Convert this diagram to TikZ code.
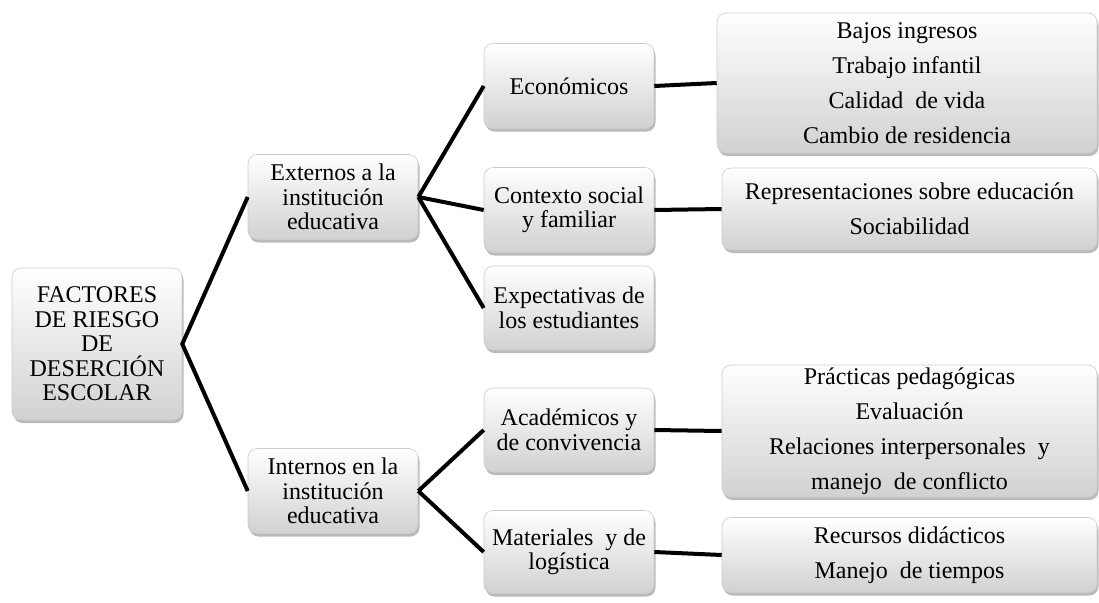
\documentclass[tikz,border=0pt]{standalone}
\usepackage{fontspec}
\setmainfont{Liberation Serif}
\usetikzlibrary{shadows}
\begin{document}
\begin{tikzpicture}[x=1pt,y=-1pt]
\tikzset{
 box/.style={draw=gray!40, line width=0.6pt, rounded corners=9pt, top color=white, bottom color=black!18,
   drop shadow={shadow xshift=1.5pt, shadow yshift=-3pt, opacity=0.45, fill=black!60},
   align=center, font=\fontsize{24}{24.5}\selectfont, inner sep=0pt},
 bigbox/.style={box, font=\fontsize{24}{35}\selectfont},
 link/.style={line width=4pt, black}
}
\useasboundingbox (0,0) rectangle (1099,602);
\node[box, minimum width=170, minimum height=152] (root) at (97,344) {FACTORES\\DE RIESGO\\DE\\DESERCIÓN\\ESCOLAR};
\node[box, minimum width=170, minimum height=85] (ext) at (333,197) {Externos a la\\institución\\educativa};
\node[box, minimum width=170, minimum height=85] (int) at (333,491) {Internos en la\\institución\\educativa};
\node[box, minimum width=170, minimum height=85] (eco) at (569,86) {Económicos};
\node[box, minimum width=170, minimum height=85] (ctx) at (569,210) {Contexto social\\y familiar};
\node[box, minimum width=170, minimum height=84] (expc) at (569,308) {Expectativas de\\los estudiantes};
\node[box, minimum width=170, minimum height=84] (acad) at (569,430) {Académicos y\\de convivencia};
\node[box, minimum width=170, minimum height=83] (mat) at (569,552) {Materiales\ \ y de\\logística};
\node[bigbox, minimum width=380, minimum height=140] (bajo) at (907,83) {Bajos ingresos\\Trabajo infantil\\Calidad\ \ de vida\\Cambio de residencia};
\node[bigbox, minimum width=375, minimum height=82] (repr) at (909.5,209) {Representaciones sobre educación\\Sociabilidad};
\node[bigbox, minimum width=375, minimum height=132] (prac) at (909.5,431) {Prácticas pedagógicas\\Evaluación\\Relaciones interpersonales\ \ y\\manejo\ \ de conflicto};
\node[bigbox, minimum width=375, minimum height=75] (rec) at (909.5,555) {Recursos didácticos\\Manejo\ \ de tiempos};
\draw[link] (ext.west) -- (root.east) -- (int.west);
\draw[link] (ext.east) -- (eco.west);
\draw[link] (ext.east) -- (ctx.west);
\draw[link] (ext.east) -- (expc.west);
\draw[link] (int.east) -- (acad.west);
\draw[link] (int.east) -- (mat.west);
\draw[link] (eco.east) -- (bajo.west);
\draw[link] (ctx.east) -- (repr.west);
\draw[link] (acad.east) -- (prac.west);
\draw[link] (mat.east) -- (rec.west);
\end{tikzpicture}
\end{document}
